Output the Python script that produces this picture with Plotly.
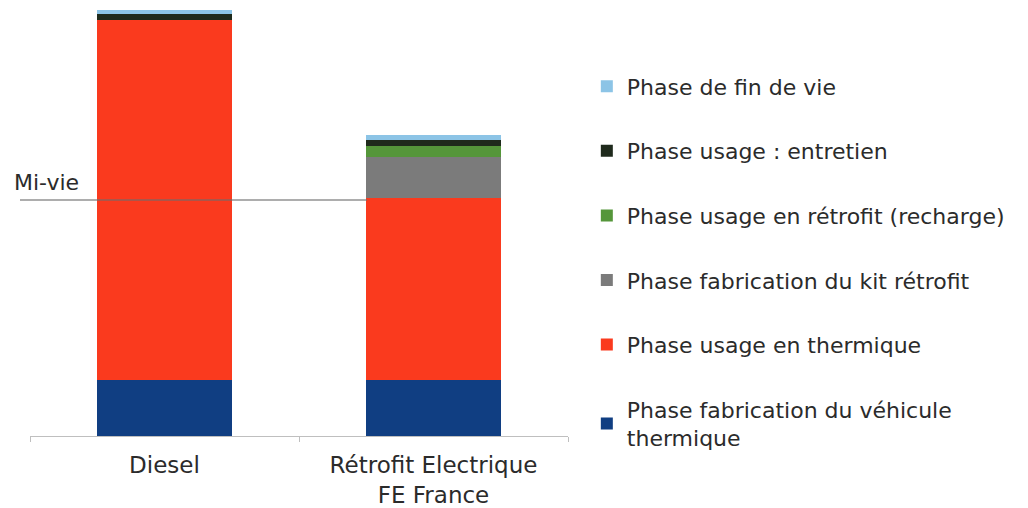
import plotly.graph_objects as go

categories = ["Diesel", "Rétrofit Electrique<br>FE France"]

# stacked series, bottom to top
fabrication_vehicule = [5.6, 5.6]
usage_thermique = [36.0, 18.2]
fabrication_kit = [0.0, 4.1]
usage_recharge = [0.0, 1.1]
usage_entretien = [0.6, 0.6]
fin_de_vie = [0.4, 0.5]

mi_vie = 23.6  # mid-life marker level (fabrication + half of diesel usage)
mi_vie_label = "Mi-vie"

series = [
    ("Phase fabrication du véhicule<br>thermique", fabrication_vehicule, "#103E82"),
    ("Phase usage en thermique", usage_thermique, "#FA3A1E"),
    ("Phase fabrication du kit rétrofit", fabrication_kit, "#7B7B7B"),
    ("Phase usage en rétrofit (recharge)", usage_recharge, "#55963A"),
    ("Phase usage : entretien", usage_entretien, "#1F2A1C"),
    ("Phase de fin de vie", fin_de_vie, "#8CC4E6"),
]

FONT = "DejaVu Sans"
TXT = "#2b2b2b"

fig = go.Figure()
n = len(series)
for i, (name, vals, col) in enumerate(series):
    fig.add_trace(go.Bar(
        x=categories, y=vals, name=name, legendgroup=f"g{i}",
        legendrank=1000 + (n - i),
        marker=dict(color=col, line=dict(width=0)),
    ))

fig.add_shape(
    type="line", xref="paper", yref="y",
    x0=-0.0186, x1=0.6264, y0=mi_vie, y1=mi_vie,
    line=dict(color="rgba(110,110,110,0.75)", width=1.5),
    layer="above",
)
fig.add_annotation(
    x=-0.0335, y=mi_vie, xref="paper", yref="y", text=mi_vie_label,
    showarrow=False, xanchor="left", yanchor="bottom", yshift=3,
    font=dict(family=FONT, size=22, color=TXT),
)

fig.update_layout(
    width=1028, height=508,
    margin=dict(l=30, r=460, t=0, b=72),
    barmode="stack", bargap=0.5,
    plot_bgcolor="white", paper_bgcolor="white",
    font=dict(family=FONT, size=23, color=TXT),
    showlegend=True,
    legend=dict(
        traceorder="grouped", tracegroupgap=33,
        x=1.035, xanchor="left", y=0.85, yanchor="top",
        font=dict(family=FONT, size=22, color=TXT),
        itemwidth=30, bgcolor="rgba(0,0,0,0)",
    ),
    xaxis=dict(
        range=[-0.5, 1.5],
        showline=True, linecolor="#BFBFBF", linewidth=1,
        ticks="outside", tickson="boundaries", ticklen=5, tickcolor="#BFBFBF",
        showgrid=False, zeroline=False, ticklabelstandoff=8,
        tickfont=dict(family=FONT, size=23, color=TXT),
    ),
    yaxis=dict(visible=False, range=[0, 43.6]),
)

fig.write_html("out.html")
